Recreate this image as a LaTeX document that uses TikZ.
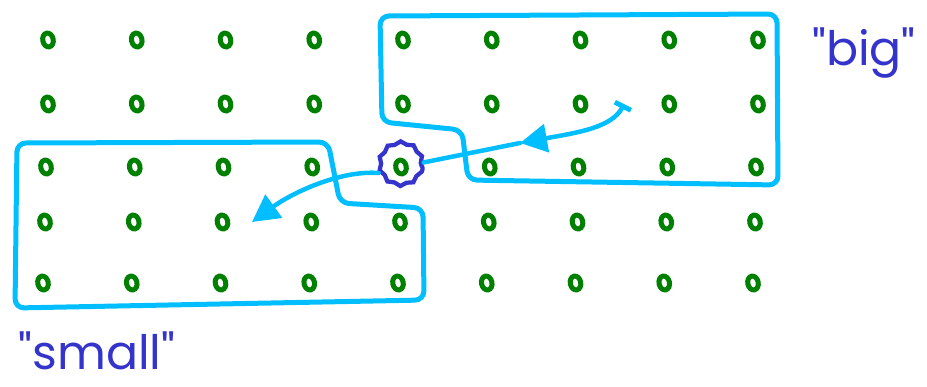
\documentclass[tikz,border=0pt]{standalone}
\usepackage{fontspec}
\newfontfamily\handfont{Poppins}
\usepackage{tikz}
\usetikzlibrary{arrows.meta,shapes.geometric,decorations.pathmorphing}
\definecolor{dotgreen}{RGB}{0,128,0}
\definecolor{lasso}{RGB}{0,190,255}
\definecolor{ink}{RGB}{52,52,204}

\begin{document}
\begin{tikzpicture}[x=0.02cm, y=-0.02cm,
    dot/.style={draw=dotgreen, ellipse, line width=0.1cm, minimum width=0.21cm,
      minimum height=0.28cm, inner sep=0pt, rotate=12},
    region/.style={draw=lasso, line width=0.1cm, rounded corners=0.18cm, line join=round},
    reach/.style={draw=lasso, line width=0.09cm, line cap=round},
    hubring/.style={circle, draw=ink, line width=0.085cm, minimum size=0.84cm,
      decorate, decoration={snake, amplitude=0.025cm, segment length=0.26cm}},
    tag/.style={text=ink, font=\handfont\fontsize{27}{30}\selectfont, anchor=base,
      inner sep=1pt}]

  \useasboundingbox (0,0) rectangle (927,386);

  % ---- dot grid -----------------------------------------------------------
  \foreach \r/\y/\dx in {1/40/0, 2/104/0, 3/167/-2, 4/222/-3, 5/283/-5}
    \foreach \c in {1,...,9}
      \node[dot] (d\r\c) at ({48+88.75*(\c-1)+\dx}, \y) {};

  % ---- the two lassos -----------------------------------------------------
  \draw[region] (380,16) -- (777,14) -- (778,185) -- (468,180) -- (462,130)
      -- (382,122) -- cycle;
  \draw[region] (17,143) -- (328,142) -- (340,203) -- (423,208) -- (424,300)
      -- (15,308) -- cycle;

  % ---- marked point and moves ---------------------------------------------
  \node[hubring] (hub) at (d35) {};
  \coordinate (bigtail)   at (624,104);
  \coordinate (bighead)   at (520,143);
  \coordinate (smallhead) at (252,222);

  \draw[reach, {Bar[width=0.36cm, line width=0.1cm]}-{Triangle[width=0.56cm, length=0.54cm]}]
      (bigtail) .. controls (612,128) and (575,133) .. (bighead);
  \draw[reach] (bighead) -- (hub);
  \draw[reach, -{Triangle[width=0.56cm, length=0.54cm]}]
      (hub.195) .. controls (340,170) and (292,193) .. (smallhead);

  % ---- labels -------------------------------------------------------------
  \node[tag] (big)   at (864,65)  {"big"};
  \node[tag] (small) at (97,369)  {"small"};
\end{tikzpicture}
\end{document}
